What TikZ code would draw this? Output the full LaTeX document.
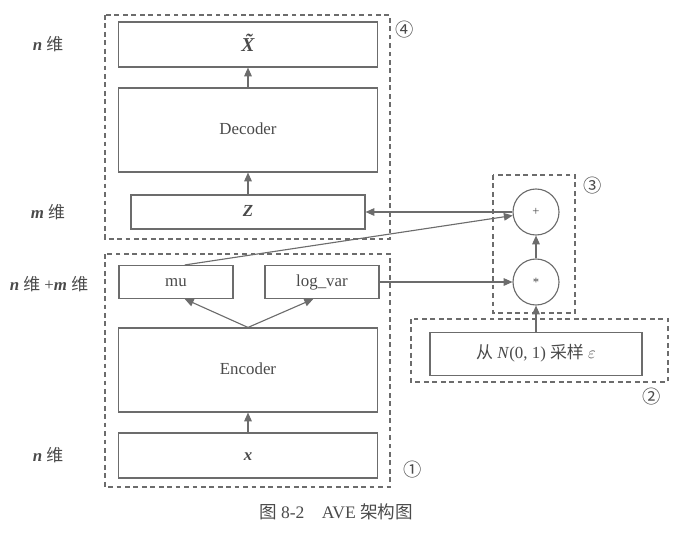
\documentclass[tikz,border=0pt]{standalone}
\usepackage{fontspec}
\setmainfont{Liberation Serif}
\newfontfamily\cjk{Noto Sans CJK SC}
\usepackage{tikz}
\usetikzlibrary{arrows.meta,positioning,shapes.geometric}
\usepackage{xcolor}
\definecolor{linegray}{HTML}{6C6C6C}
\definecolor{textgray}{HTML}{4A4A4A}

\begin{document}
\begin{tikzpicture}[
  block/.style={draw=linegray,line width=.8pt,inner sep=0pt,text height=.85em,text depth=.15em,text=textgray,font=\fontsize{12}{14}\selectfont},
  op/.style={circle,draw=linegray,line width=.8pt,minimum size=1.15cm,inner sep=0pt,text=textgray,font=\fontsize{9}{10}\selectfont},
  group/.style={draw=linegray,line width=.85pt,dash pattern=on 3.4pt off 2.6pt},
  msg/.style={-{Triangle[length=2.2mm,width=1.9mm]},draw=linegray,line width=.8pt},
  dimlabel/.style={text=textgray,font=\fontsize{12}{14}\selectfont},
  tag/.style={text=textgray,font=\cjk\fontsize{13}{14}\selectfont}
]
\useasboundingbox (0,0) rectangle (17.3,-13.65);
\node[block,minimum width=6.475cm,minimum height=1.125cm,text height=1.1em] (xt) at (6.2,-1.1125) {\fontsize{14}{15}\selectfont\bfseries\itshape\~{X}};
\node[block,minimum width=6.475cm,minimum height=2.1cm] (dec) at (6.2,-3.25) {Decoder};
\node[block,minimum width=5.85cm,minimum height=.85cm] (z) at (6.2,-5.3) {\bfseries\itshape Z};
\node[block,minimum width=2.85cm,minimum height=.825cm] (mu) at (4.4,-7.05) {mu};
\node[block,minimum width=2.85cm,minimum height=.825cm] (lv) at (8.05,-7.05) {log\_var};
\node[block,minimum width=6.475cm,minimum height=2.1cm] (enc) at (6.2,-9.25) {Encoder};
\node[block,minimum width=6.475cm,minimum height=1.125cm] (x) at (6.2,-11.3875) {\bfseries\itshape x};
\node[op] (plus) at (13.4,-5.3) {+};
\node[op] (mul) at (13.4,-7.05) {*};
\node[block,minimum width=5.3cm,minimum height=1.075cm] (eps) at (13.4,-8.84) {{\cjk 从} \textit{N}(0, 1) {\cjk 采样} $\varepsilon$};
\draw[group] (2.625,-.375) rectangle (9.75,-5.975);
\draw[group] (2.625,-6.35) rectangle (9.75,-12.175);
\draw[group] (12.325,-4.375) rectangle (14.375,-7.825);
\draw[group] (10.275,-7.975) rectangle (16.7,-9.55);
\node[tag] (t4) at (10.125,-.75) {④};
\node[tag] (t3) at (14.825,-4.65) {③};
\node[tag] (t2) at (16.3,-9.925) {②};
\node[tag] (t1) at (10.325,-11.75) {①};
\node[dimlabel] (d1) at (1.2,-1.1125) {\textbf{\textit{n}} {\cjk 维}};
\node[dimlabel] (d2) at (1.2,-5.3) {\textbf{\textit{m}} {\cjk 维}};
\node[dimlabel] (d3) at (1.225,-7.1) {\textbf{\textit{n}} {\cjk 维} +\textbf{\textit{m}} {\cjk 维}};
\node[dimlabel] (d4) at (1.2,-11.3875) {\textbf{\textit{n}} {\cjk 维}};
\draw[msg] (dec.north) -- (xt.south);
\draw[msg] (z.north) -- (dec.south);
\draw[msg] (x.north) -- (enc.south);
\draw[msg] (enc.north) -- ([xshift=.22cm]mu.south);
\draw[msg] (enc.north) -- ([xshift=-.22cm]lv.south);
\draw[msg] ([xshift=.22cm]mu.north) -- (plus);
\draw[msg] (plus.west) -- (z.east);
\draw[msg] (lv.east) -- (mul.west);
\draw[msg] (mul.north) -- (plus.south);
\draw[msg] (eps.north) -- (mul.south);
\node[text=textgray,font=\fontsize{12.5}{14}\selectfont] (cap) at (8.4,-12.8) {{\cjk 图} 8-2\quad AVE {\cjk 架构图}};
\end{tikzpicture}
\end{document}
